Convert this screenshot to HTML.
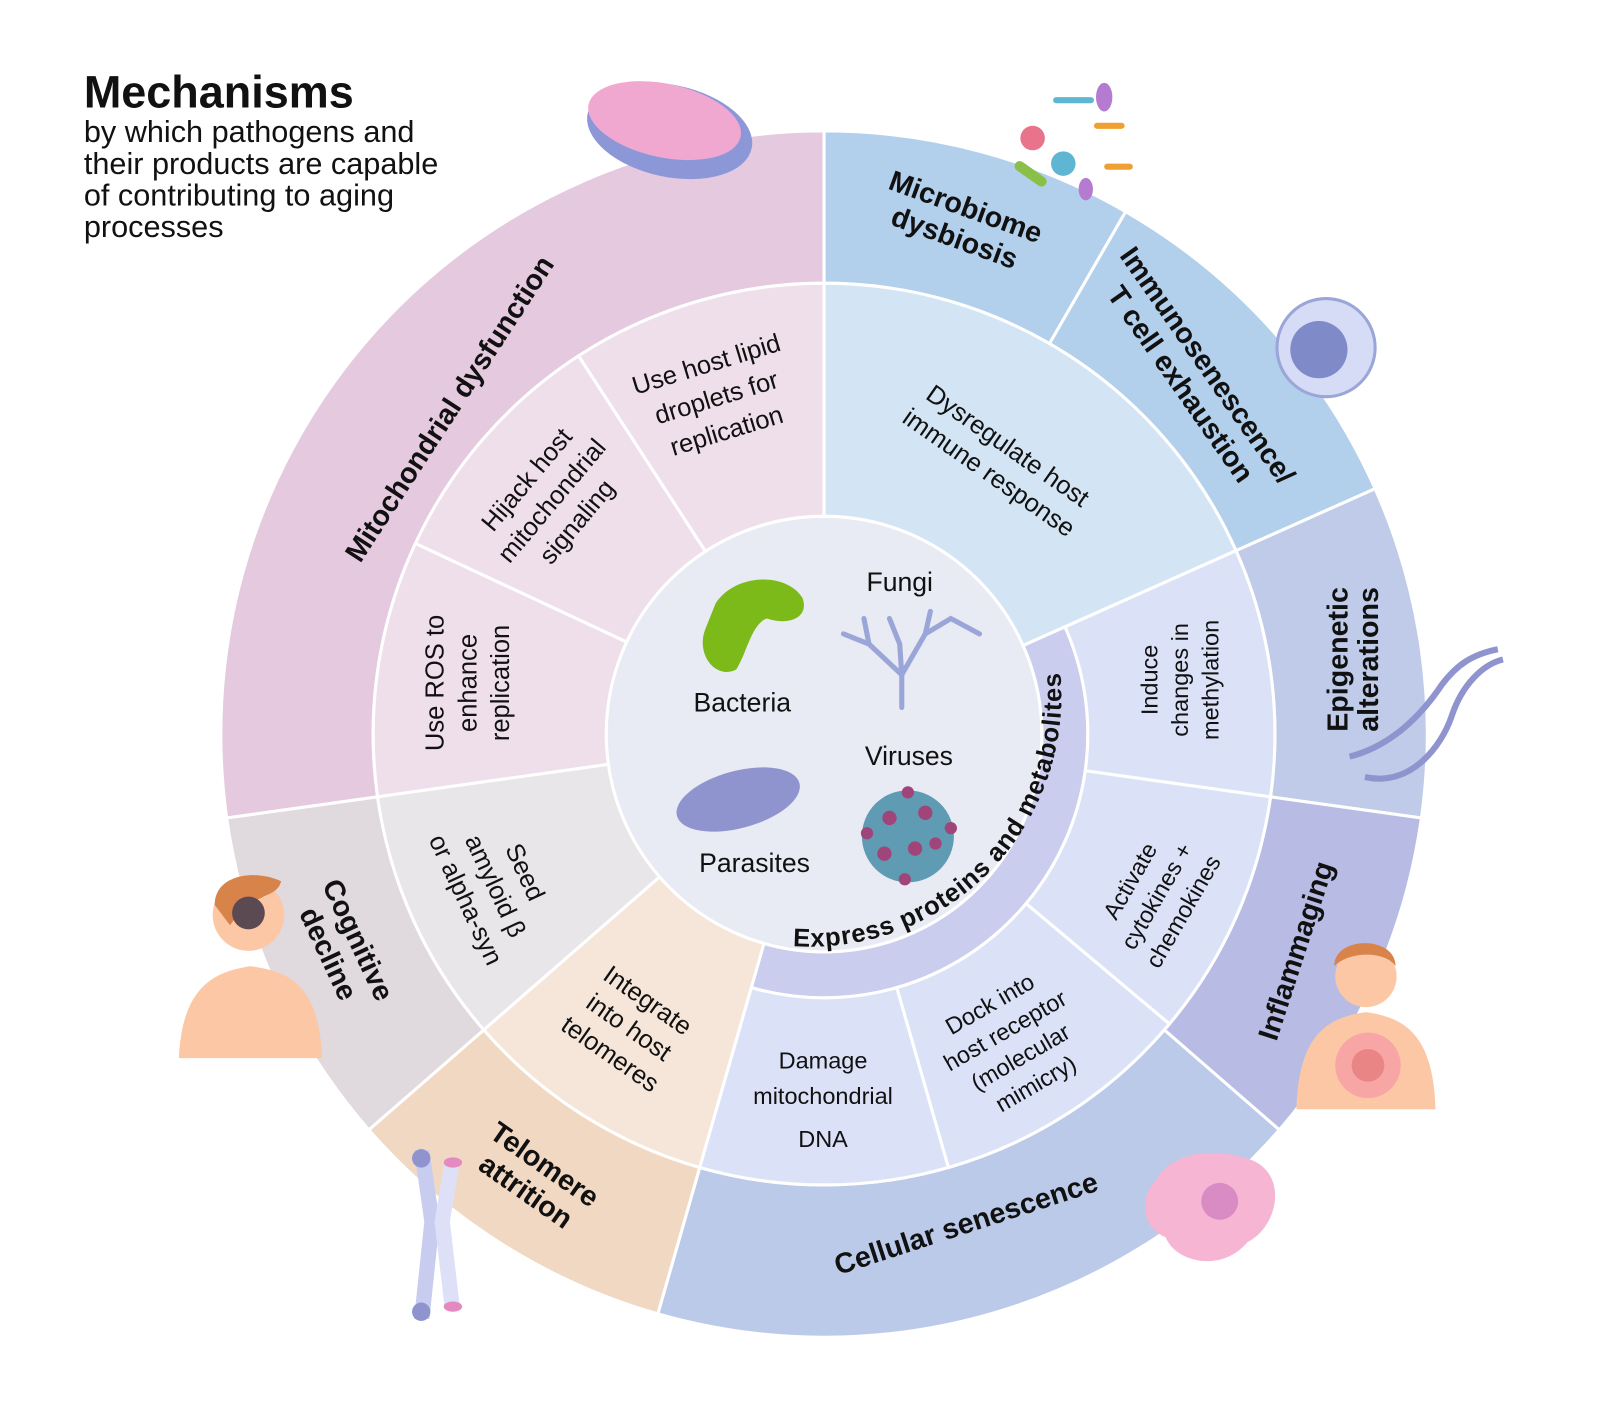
<!DOCTYPE html>
<html><head><meta charset="utf-8"><style>
html,body{margin:0;padding:0;background:#fff}
svg{display:block}
text{font-family:"Liberation Sans",sans-serif;fill:#111}
</style></head><body>
<svg id="s" width="1600" height="1405" viewBox="0 0 1600 1405" xmlns="http://www.w3.org/2000/svg">
<g transform="scale(1.0224)">
<g id="w"></g>
<circle cx="806" cy="718" r="213" fill="#e8eaf4" stroke="#fff" stroke-width="3"/>
<defs><path id="ep" d="M 735.6 919.0 A 245 245 0 0 0 1029.8 617.5" fill="none"/></defs>
<text font-size="25" font-weight="bold" letter-spacing="0.8"><textPath href="#ep" startOffset="50%" text-anchor="middle">Express proteins and  metabolites</textPath></text>

<!-- Title -->
<text x="82" y="105" font-size="44" font-weight="bold">Mechanisms</text>
<text font-size="30"><tspan x="82" y="139">by which pathogens and</tspan><tspan x="82" y="170">their products are capable</tspan><tspan x="82" y="201">of contributing to aging</tspan><tspan x="82" y="232">processes</tspan></text>

<!-- outer labels -->
<g font-size="28" font-weight="bold" text-anchor="middle">
<text transform="translate(440,400) rotate(-57)" y="9">Mitochondrial dysfunction</text>
<text transform="translate(940,215) rotate(20)"><tspan x="0" y="-4">Microbiome</tspan><tspan x="0" y="28">dysbiosis</tspan></text>
<text transform="translate(1170,365) rotate(55)"><tspan x="0" y="-4">Immunosenescence/</tspan><tspan x="0" y="28">T cell exhaustion</tspan></text>
<text transform="translate(1322,645) rotate(-90)"><tspan x="0" y="-4">Epigenetic</tspan><tspan x="0" y="26">alterations</tspan></text>
<text transform="translate(1268,930) rotate(-72)" y="9">Inflammaging</text>
<text transform="translate(945,1197) rotate(-18)" y="9">Cellular senescence</text>
<text transform="translate(525,1150) rotate(35)"><tspan x="0" y="-4">Telomere</tspan><tspan x="0" y="28">attrition</tspan></text>
<text transform="translate(338,925) rotate(65)"><tspan x="0" y="-4">Cognitive</tspan><tspan x="0" y="28">decline</tspan></text>
</g>

<!-- middle labels -->
<g font-size="25" text-anchor="middle">
<text transform="translate(978,447) rotate(35)"><tspan x="0" y="-5">Dysregulate host</tspan><tspan x="0" y="27">immune response</tspan></text>
<text transform="translate(1155,665) rotate(-90)" font-size="23"><tspan x="0" y="-23">Induce</tspan><tspan x="0" y="7">changes in</tspan><tspan x="0" y="37">methylation</tspan></text>
<text transform="translate(1132,877) rotate(-60)" font-size="23"><tspan x="0" y="-23">Activate</tspan><tspan x="0" y="7">cytokines +</tspan><tspan x="0" y="37">chemokines</tspan></text>
<text transform="translate(990,1020) rotate(-30)" font-size="23"><tspan x="0" y="-36">Dock into</tspan><tspan x="0" y="-6">host receptor</tspan><tspan x="0" y="24">(molecular</tspan><tspan x="0" y="54">mimicry)</tspan></text>
<text font-size="23"><tspan x="805" y="1045">Damage</tspan><tspan x="805" y="1080">mitochondrial</tspan><tspan x="805" y="1122">DNA</tspan></text>
<text transform="translate(615,1005) rotate(35)"><tspan x="0" y="-24">Integrate</tspan><tspan x="0" y="8">into host</tspan><tspan x="0" y="40">telomeres</tspan></text>
<text transform="translate(477,870) rotate(65)"><tspan x="0" y="-32">Seed</tspan><tspan x="0" y="0">amyloid β</tspan><tspan x="0" y="32">or alpha-syn</tspan></text>
<text transform="translate(458,668) rotate(-90)"><tspan x="0" y="-24">Use ROS to</tspan><tspan x="0" y="8">enhance</tspan><tspan x="0" y="40">replication</tspan></text>
<text transform="translate(540,490) rotate(-50)"><tspan x="0" y="-24">Hijack host</tspan><tspan x="0" y="8">mitochondrial</tspan><tspan x="0" y="40">signaling</tspan></text>
<text transform="translate(702,393) rotate(-17)"><tspan x="0" y="-30">Use host lipid</tspan><tspan x="0" y="4">droplets for</tspan><tspan x="0" y="38">replication</tspan></text>
</g>

<!-- center labels -->
<g font-size="26" text-anchor="middle">
<text x="880" y="578">Fungi</text>
<text x="726" y="696">Bacteria</text>
<text x="889" y="748">Viruses</text>
<text x="738" y="853">Parasites</text>
</g>

<!-- center icons -->
<path d="M700 590 C720 560 770 560 785 585 C792 605 770 612 750 605 C735 610 730 640 720 655 C700 665 680 640 690 615 Z" fill="#7cba1a"/>
<g stroke="#9aa6d8" stroke-width="5" fill="none" stroke-linecap="round">
<path d="M882 692 L882 660 L850 630 L825 620 M850 630 L845 605 M882 660 L905 620 L930 605 L958 620 M905 620 L910 598 M882 660 L880 630 L870 605"/>
</g>
<ellipse cx="722" cy="782" rx="62" ry="28" fill="#8f94cf" transform="rotate(-15 722 782)"/>
<circle cx="888" cy="818" r="45" fill="#5f9bb3"/>
<g fill="#a0457a"><circle cx="870" cy="800" r="7"/><circle cx="905" cy="795" r="7"/><circle cx="895" cy="830" r="7"/><circle cx="865" cy="835" r="7"/><circle cx="915" cy="825" r="6"/><circle cx="888" cy="775" r="6"/><circle cx="848" cy="815" r="6"/><circle cx="930" cy="810" r="6"/><circle cx="885" cy="860" r="6"/></g>

<!-- outer icons -->
<ellipse cx="655" cy="128" rx="82" ry="45" fill="#8c97d8" transform="rotate(12 655 128)"/>
<ellipse cx="650" cy="118" rx="76" ry="36" fill="#f1a8d0" transform="rotate(12 650 118)"/>
<g fill="#e9738a"><circle cx="1010" cy="135" r="12"/></g>
<g fill="#5fb6d2"><circle cx="1040" cy="160" r="12"/><rect x="1030" y="95" width="40" height="6" rx="3"/></g>
<g fill="#b57bd0"><ellipse cx="1080" cy="95" rx="8" ry="14"/><ellipse cx="1062" cy="185" rx="7" ry="11"/></g>
<g fill="#f0a030"><rect x="1070" y="120" width="30" height="6" rx="3"/><rect x="1080" y="160" width="28" height="6" rx="3"/></g>
<rect x="990" y="165" width="36" height="10" rx="5" fill="#8ac04a" transform="rotate(35 1008 170)"/>
<circle cx="1297" cy="340" r="48" fill="#d6dcf6" stroke="#9aa6d8" stroke-width="3"/>
<circle cx="1290" cy="342" r="28" fill="#7f8bc9"/>
<path d="M1320 740 C1360 730 1390 700 1410 670 C1425 650 1440 640 1465 635" stroke="#8f94cf" stroke-width="6" fill="none"/>
<path d="M1335 760 C1380 770 1410 730 1420 700 C1430 670 1450 650 1470 645" stroke="#8f94cf" stroke-width="6" fill="none"/>
<g>
<circle cx="243" cy="895" r="35" fill="#fcc7a4"/>
<path d="M210 885 C210 855 250 850 275 862 C270 880 250 870 225 905 Z" fill="#d7834a"/>
<circle cx="243" cy="893" r="16" fill="#5c4a52"/>
<path d="M175 1035 C178 960 215 950 245 945 C280 950 312 960 315 1035 Z" fill="#fcc7a4"/>
</g>
<g>
<circle cx="1336" cy="955" r="30" fill="#fcc7a4"/>
<path d="M1305 945 C1305 915 1365 915 1365 945 C1355 930 1320 930 1305 945Z" fill="#d7834a"/>
<path d="M1268 1085 C1270 1010 1300 995 1336 990 C1372 995 1402 1010 1404 1085 Z" fill="#fcc7a4"/>
<circle cx="1338" cy="1042" r="32" fill="#f7a5a5"/><circle cx="1338" cy="1042" r="16" fill="#e98585"/>
</g>
<path d="M1130 1155 C1150 1120 1200 1125 1225 1135 C1260 1150 1250 1200 1220 1215 C1195 1245 1150 1235 1140 1210 C1115 1200 1115 1170 1130 1155Z" fill="#f6b5d2"/>
<circle cx="1193" cy="1175" r="18" fill="#d98bc4"/>
<g>
<path d="M405 1125 L420 1125 L430 1195 L420 1290 L405 1290 L415 1195 Z" fill="#c8ccef"/>
<path d="M435 1135 L450 1135 L440 1195 L450 1280 L435 1280 L425 1195 Z" fill="#dde0f6"/>
<circle cx="412" cy="1133" r="9" fill="#8f94cf"/><circle cx="412" cy="1283" r="9" fill="#8f94cf"/>
<ellipse cx="443" cy="1137" rx="9" ry="5" fill="#e58ac0"/><ellipse cx="443" cy="1278" rx="9" ry="5" fill="#e58ac0"/>
</g>
</g>
</svg>
<script>
(function(){
var cx=806,cy=718,NS="http://www.w3.org/2000/svg";
function p(r,a){a=a*Math.PI/180;return (cx+r*Math.cos(a)).toFixed(1)+" "+(cy+r*Math.sin(a)).toFixed(1);}
function wedge(r0,r1,a0,a1,c){
 var l=(a1-a0)>180?1:0;
 var d="M"+p(r0,a0)+" L"+p(r1,a0)+" A"+r1+" "+r1+" 0 "+l+" 1 "+p(r1,a1)+" L"+p(r0,a1)+" A"+r0+" "+r0+" 0 "+l+" 0 "+p(r0,a0)+"Z";
 var e=document.createElementNS(NS,"path");e.setAttribute("d",d);e.setAttribute("fill",c);
 e.setAttribute("stroke","#fff");e.setAttribute("stroke-width","3");document.getElementById("w").appendChild(e);}
var R0=213,RE=258,R1=441,R2=590;
[[172,270,"#e4c9df"],[270,300,"#b2cfec"],[300,336,"#b2cfec"],[-24,8,"#bfcbe8"],[8,41,"#b8bce5"],[41,106,"#bccae9"],[106,139,"#f1d8c3"],[139,172,"#e0d9de"]].forEach(function(w){wedge(R1,R2,w[0],w[1],w[2]);});
[[237,270,"#efdfea"],[205,237,"#efdfea"],[172,205,"#efdfea"],[139,172,"#e8e6e8"],[106,139,"#f6e6da"],[270,336,"#d3e5f4"]].forEach(function(w){wedge(R0,R1,w[0],w[1],w[2]);});
wedge(R0,RE,-24,106,"#cbcdef");
[[-24,8],[8,40],[40,74],[74,106]].forEach(function(w){wedge(RE,R1,w[0],w[1],"#dbe2f8");});
})();
</script>
</body></html>
